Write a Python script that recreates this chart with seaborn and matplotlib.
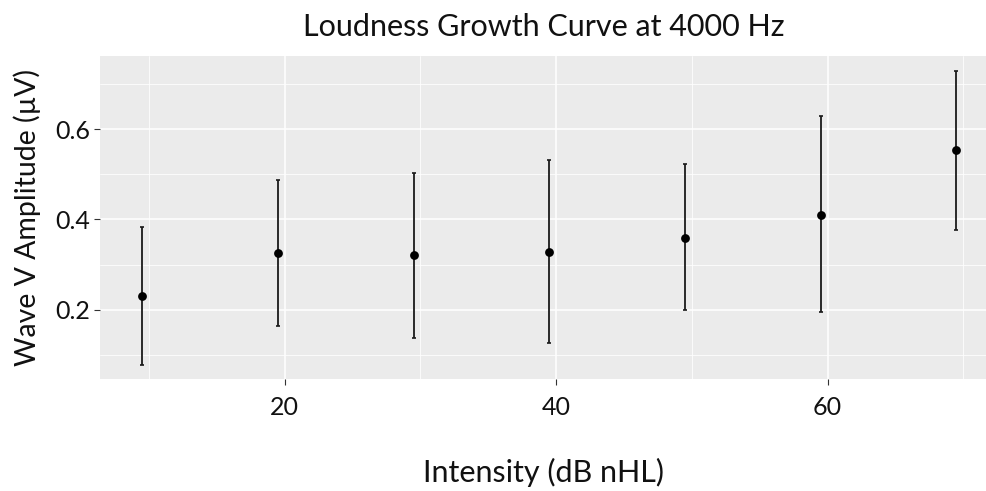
import matplotlib
matplotlib.use("Agg")
import matplotlib.pyplot as plt
import seaborn as sns
import pandas as pd
from matplotlib.ticker import FixedLocator

# Data
intensity = [9.5, 19.5, 29.5, 39.5, 49.5, 59.5, 69.5]
amplitude = [0.230, 0.325, 0.322, 0.328, 0.359, 0.410, 0.554]
lower = [0.078, 0.165, 0.138, 0.127, 0.199, 0.196, 0.376]
upper = [0.384, 0.488, 0.503, 0.531, 0.523, 0.629, 0.728]
x_ticks = [20, 40, 60]
y_ticks = [0.2, 0.4, 0.6]

df = pd.DataFrame({"intensity": intensity, "amplitude": amplitude,
                   "lower": lower, "upper": upper})

sns.set_theme(style="darkgrid")
plt.rcParams['font.family'] = ['Lato', 'DejaVu Sans']

W, H = 987, 491
fig = plt.figure(figsize=(W / 100, H / 100), dpi=100)
left, right, top, bottom = 100, 987, 56, 379
ax = fig.add_axes([left / W, (H - bottom) / H, (right - left) / W, (bottom - top) / H])
ax.set_facecolor("#EBEBEB")

# error bars
yerr = [[a - l for a, l in zip(df["amplitude"], df["lower"])],
        [u - a for a, u in zip(df["amplitude"], df["upper"])]]
ax.errorbar(df["intensity"], df["amplitude"], yerr=yerr, fmt="none",
            ecolor="#1a1a1a", elinewidth=1.3, capsize=1.5, capthick=1.2, zorder=3)
sns.scatterplot(data=df, x="intensity", y="amplitude", ax=ax, color="black",
                s=40, edgecolor="black", linewidth=0, zorder=4)

ax.set_xlim(6.39, 71.75)
ax.set_ylim(0.0466, 0.762)
ax.set_xticks(x_ticks)
ax.set_yticks(y_ticks)
ax.xaxis.set_minor_locator(FixedLocator([10, 30, 50, 70]))
ax.yaxis.set_minor_locator(FixedLocator([0.1, 0.3, 0.5, 0.7]))
ax.grid(which="major", color="white", linewidth=1.1)
ax.grid(which="minor", color="white", linewidth=0.55)
ax.set_axisbelow(True)
for s in ax.spines.values():
    s.set_visible(False)

ax.tick_params(axis="both", which="major", length=4, width=0.8, color="#333333",
               labelsize=18, labelcolor="#111111", bottom=True, left=True)
ax.tick_params(axis="x", which="major", pad=8)
ax.tick_params(axis="y", which="major", pad=3)
ax.tick_params(axis="both", which="minor", length=0)
ax.set_yticklabels(["0.2", "0.4", "0.6"])
ax.set_xticklabels(["20", "40", "60"])

ax.set_xlabel("Intensity (dB nHL)", fontsize=22, color="#111111", labelpad=28)
ax.set_ylabel("Wave V Amplitude (µV)", fontsize=20.5, color="#111111", labelpad=10)
fig.text((left + right) / 2 / W, 1 - 27 / H, "Loudness Growth Curve at 4000 Hz",
         ha="center", va="center", fontsize=22, color="#111111")

fig.savefig("out.png", dpi=100)
